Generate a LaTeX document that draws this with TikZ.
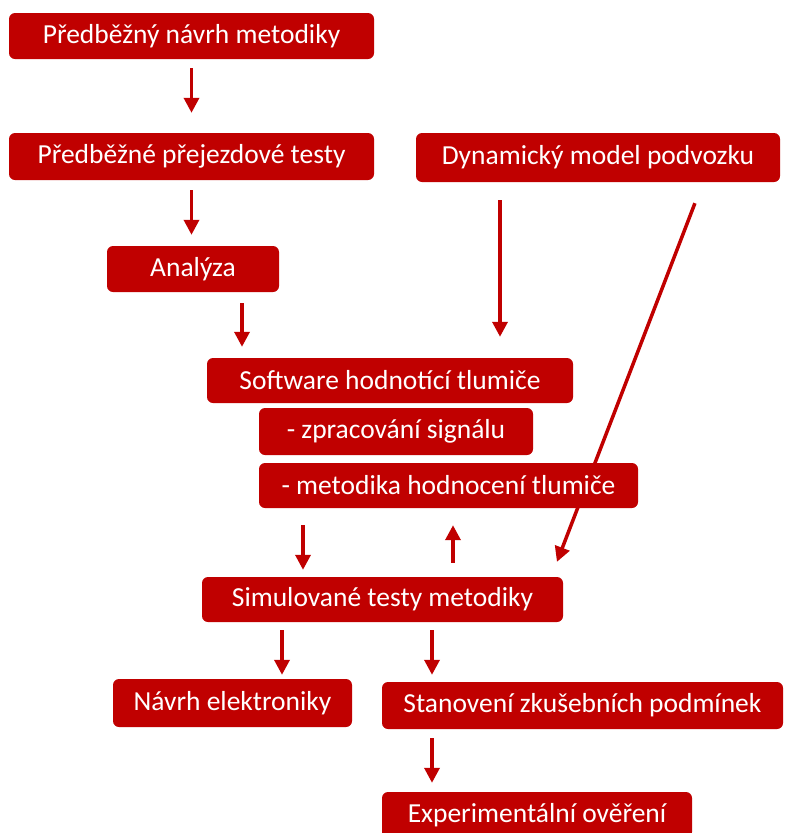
\documentclass[tikz,border=0pt]{standalone}
\usepackage{fontspec}
\setmainfont{Carlito}
\usetikzlibrary{arrows.meta,backgrounds}
\definecolor{boxred}{RGB}{192,0,0}

\begin{document}
\begin{tikzpicture}[x=1pt, y=-1pt, every node/.style={rectangle, rounded corners=6pt, fill=boxred, text=white, inner sep=0pt, font=\fontsize{27.5}{32}\selectfont}]
\tikzset{arr/.style={draw=boxred, line width=3.5pt, -{Triangle[width=15pt,length=15pt]}}}
\useasboundingbox (0,0) rectangle (785,833);
\node[minimum width=365pt, minimum height=46pt] (n1)  at (191.5,36)    {Předběžný návrh metodiky};
\node[minimum width=365pt, minimum height=47pt] (n2)  at (191.5,156.5) {Předběžné přejezdové testy};
\node[minimum width=364pt, minimum height=49pt] (n3)  at (598,157.5)   {Dynamický model podvozku};
\node[minimum width=172pt, minimum height=46pt] (n4)  at (193,269)     {Analýza};
\node[minimum width=366pt, minimum height=45pt] (n5)  at (390,380.5)   {Software hodnotící tlumiče};
\node[minimum width=274pt, minimum height=47pt] (n6)  at (396,431.5)   {- zpracování signálu};
\node[minimum width=379pt, minimum height=45pt] (n7)  at (448.5,485.5) {- metodika hodnocení tlumiče};
\node[minimum width=361pt, minimum height=45pt] (n8)  at (382.5,599.5) {Simulované testy metodiky};
\node[minimum width=239pt, minimum height=48pt] (n9)  at (232.5,703)   {Návrh elektroniky};
\node[minimum width=401pt, minimum height=47pt] (n10) at (582.5,705.5) {Stanovení zkušebních podmínek};
\node[minimum width=310pt, minimum height=46pt] (n11) at (537,815)     {Experimentální ověření};
\begin{pgfonlayer}{background}
\draw[arr, shorten <=9pt, shorten >=20pt]  (n1.south) -- (n2.north);
\draw[arr, shorten <=10pt, shorten >=11pt] (n2.south) -- (n2.south |- n4.north);
\draw[arr, shorten <=11pt, shorten >=11pt] ([xshift=49pt]n4.south) -- ([xshift=-148pt]n5.north);
\draw[arr, shorten <=18pt, shorten >=21pt] ([xshift=-98pt]n3.south) -- ([xshift=110pt]n5.north);
\draw[arr, shorten <=22.5pt, shorten >=16pt] ([xshift=105pt]n3.south) -- ([xshift=168.7pt]n8.north);
\draw[arr, shorten <=17pt, shorten >=7pt]  ([xshift=-145.5pt]n7.south) -- ([xshift=-79.5pt]n8.north);
\draw[arr, shorten <=14pt, shorten >=17pt] ([xshift=70.5pt]n8.north) -- ([xshift=4.5pt]n7.south);
\draw[arr, shorten <=8pt, shorten >=4pt]   ([xshift=-100.5pt]n8.south) -- ([xshift=49.5pt]n9.north);
\draw[arr, shorten <=8pt, shorten >=7pt]   ([xshift=49.5pt]n8.south) -- ([xshift=-150.5pt]n10.north);
\draw[arr, shorten <=9pt, shorten >=9pt]   ([xshift=-150.5pt]n10.south) -- ([xshift=-105pt]n11.north);
\end{pgfonlayer}
\end{tikzpicture}
\end{document}
